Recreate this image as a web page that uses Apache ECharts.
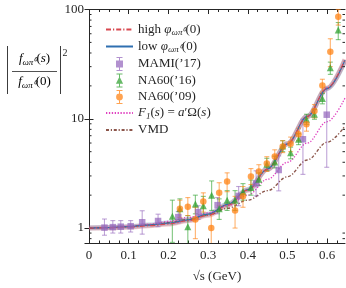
<!DOCTYPE html>
<html><head><meta charset="utf-8">
<script src="https://cdn.jsdelivr.net/npm/echarts@6/dist/echarts.min.js"></script>
<style>html,body{margin:0;padding:0;background:#fff}#c{width:346px;height:288px}</style>
</head><body><div id="c"></div>
<script>
// ---- data ----
const xTicks = [0, 0.1, 0.2, 0.3, 0.4, 0.5, 0.6];
const xMinorTicks = [0.025,0.05,0.075,0.125,0.15,0.175,0.225,0.25,0.275,0.325,0.35,0.375,0.425,0.45,0.475,0.525,0.55,0.575,0.625];
const yTickLabels = [1, 10, 100];
const yMinorTicks = [0.8,0.9,2,3,4,5,6,7,8,9,20,30,40,50,60,70,80,90];

const curveX = [0,0.05,0.1,0.15,0.2,0.25,0.3,0.35,0.4,0.45,0.5,0.55,0.6,0.645];
const lowY   = [1,1.01,1.03,1.064,1.11,1.19,1.34,1.65,2.25,3.48,5.9,10.5,18.9,34.4];
const highY  = [1,1.005,1.02,1.05,1.09,1.17,1.31,1.62,2.22,3.45,5.9,10.5,19.1,35];
const f1Y    = [1,1.01,1.04,1.08,1.15,1.25,1.38,1.6,2.0,2.8,4.0,6.0,9.4,15.5];
const vmdY   = [1,1.01,1.03,1.07,1.12,1.2,1.32,1.52,1.8,2.2,2.95,4.2,6.1,8.6];

const mamiX  = [0.039,0.06,0.08,0.105,0.134,0.174,0.225,0.275,0.324,0.377,0.421,0.478,0.539,0.599];
const mamiY  = [1.01,1.02,1.03,1.04,1.13,1.16,1.26,1.40,1.62,1.97,2.56,3.4,6.5,10.9];
const mamiLo = [0.86,0.9,0.9,0.92,0.88,1.03,1.12,1.2,1.35,1.6,1.97,2.19,3.1,3.6];
const mamiHi = [1.21,1.17,1.17,1.17,1.44,1.34,1.42,1.6,1.9,2.4,3.34,4.58,9.9,19.3];

const na16X  = [0.21,0.229,0.249,0.268,0.288,0.309,0.328,0.348,0.368,0.388,0.408,0.428,0.448,0.468,0.488,0.508,0.528,0.548,0.568,0.588,0.608,0.628];
const na16Y  = [1.28,1.5,1.03,1.66,1.6,2.0,1.5,1.8,1.8,2.15,2.35,2.8,3.84,4.03,5.65,4.9,6.5,9.9,11,15.3,29.3,65];
const na16Lo = [0.74,1.2,0.7,1.35,1.3,1.45,1.2,1.45,1.45,1.8,2.0,2.45,3.35,3.55,5.0,4.3,5.8,8.9,9.9,13.7,25.5,53];
const na16Hi = [1.8,1.85,1.3,2.0,1.95,2.7,1.85,2.2,2.2,2.55,2.75,3.2,4.35,4.55,6.3,5.5,7.3,11,12.2,17,33,76];

const na09X  = [0.229,0.249,0.268,0.288,0.308,0.328,0.348,0.368,0.388,0.408,0.428,0.448,0.468,0.488,0.508,0.528,0.548,0.568,0.588,0.608,0.628];
const na09Y  = [1.5,1.57,1.2,1.75,1.0,2.1,2.67,1.45,1.95,2.97,3.3,3.9,4.52,5.58,5.9,7.21,8.9,11.8,20.2,41,86];
const na09Lo = [1.25,1.3,0.8,1.4,0.6,1.6,2.15,1.0,1.55,2.5,2.8,3.3,3.9,4.9,5.0,6.3,7.7,10.2,17.5,30,72];
const na09Hi = [1.8,1.9,1.55,2.1,1.35,2.6,3.2,1.95,2.4,3.5,3.8,4.5,5.2,6.3,6.8,8.2,10.2,13.5,23,54,100];

// ---- helpers ----
const FONT = 'Liberation Serif';
const INK = '#262626';
const C_HIGH = '#d8474f', C_LOW = '#2f6fb0', C_MAMI = '#9467bd', C_N16 = '#2ca02c', C_N09 = '#ff7f0e', C_F1 = '#e040c0', C_VMD = '#8c564b';
const pairs = (xs, ys) => xs.map((x, i) => [x, ys[i]]);
function rgba(hex, a) {
  const n = parseInt(hex.slice(1), 16);
  return `rgba(${(n>>16)&255},${(n>>8)&255},${n&255},${a})`;
}
function errSeries(name, xs, lo, hi, color) {
  return {
    type: 'custom', name, silent: true, z: 3,
    data: xs.map((x, i) => [x, lo[i], hi[i]]),
    renderItem(params, api) {
      const cs = params.coordSys;
      const x = api.value(0);
      const a = api.coord([x, api.value(1)]);
      const b = api.coord([x, api.value(2)]);
      const top = cs.y, bot = cs.y + cs.height;
      const y1 = Math.min(Math.max(a[1], top), bot), y2 = Math.min(Math.max(b[1], top), bot);
      const st = { stroke: rgba(color, 0.6), lineWidth: 1.1 };
      const ch = [{ type: 'line', shape: { x1: a[0], y1: y1, x2: a[0], y2: y2 }, style: st }];
      if (a[1] <= bot) ch.push({ type: 'line', shape: { x1: a[0]-2.5, y1: a[1], x2: a[0]+2.5, y2: a[1] }, style: st });
      if (b[1] >= top) ch.push({ type: 'line', shape: { x1: b[0]-2.5, y1: b[1], x2: b[0]+2.5, y2: b[1] }, style: st });
      return { type: 'group', children: ch };
    }
  };
}
const ICON_SQ  = 'path://M2,0H8V1H2Z M4.5,0H5.5V14H4.5Z M2,13H8V14H2Z M1.5,3.5H8.5V10.5H1.5Z';
const ICON_TRI = 'path://M2,0H8V1H2Z M4.5,0H5.5V14H4.5Z M2,13H8V14H2Z M5,3L8.6,10.2H1.4Z';
const ICON_CIR = 'path://M2,0H8V1H2Z M4.5,0H5.5V14H4.5Z M2,13H8V14H2Z M5,3.6A3.4,3.4 0 1 1 4.99,3.6Z';

const rich = {
  t: { fontFamily: FONT, fontSize: 13, lineHeight: 16, color: INK, verticalAlign: 'middle' },
  i: { fontFamily: FONT, fontSize: 13, lineHeight: 16, fontStyle: 'italic', color: INK, verticalAlign: 'middle' },
  s: { fontFamily: FONT, fontSize: 9, lineHeight: 16, fontStyle: 'italic', color: INK, verticalAlign: 'bottom' }
};
const legendText = {
  'high': '{t|high }{i|φ}{s|ωπ⁰}{t|(0)}',
  'low': '{t|low }{i|φ}{s|ωπ⁰}{t|(0)}',
  "MAMI('17)": "{t|MAMI(’17)}",
  "NA60('16)": "{t|NA60(’16)}",
  "NA60('09)": "{t|NA60(’09)}",
  'F1': '{i|F}{s|1}{t|(}{i|s}{t|) = }{i|a}{t|′Ω(}{i|s}{t|)}',
  'VMD': '{t|VMD}'
};

const chart = echarts.init(document.getElementById('c'), null, { renderer: 'canvas' });
const lineBase = { type: 'line', symbol: 'none', smooth: 0.35, smoothMonotone: 'x', silent: true };
const hideSym = { itemStyle: { opacity: 0 } };

const axisLineStyle = { color: INK, width: 1 };
const option = {
  animation: false,
  grid: { left: 89, right: 1, top: 9.5, bottom: 44, containLabel: false },
  xAxis: [
    { type: 'value', min: 0, max: 0.645, position: 'bottom',
      axisLine: { show: true, lineStyle: axisLineStyle },
      axisTick: { show: true, inside: true, length: 4.5, customValues: xTicks, lineStyle: axisLineStyle },
      axisLabel: { customValues: xTicks, formatter: v => v === 0 ? '0' : v.toFixed(1), fontFamily: FONT, fontSize: 13, color: INK, margin: 6 },
      splitLine: { show: false },
      name: '√s (GeV)', nameLocation: 'middle', nameGap: 27,
      nameTextStyle: { fontFamily: FONT, fontSize: 13, color: INK } },
    { type: 'value', min: 0, max: 0.645, position: 'bottom',
      axisLine: { show: false }, axisLabel: { show: false }, splitLine: { show: false },
      axisTick: { show: true, inside: true, length: 2.5, customValues: xMinorTicks, lineStyle: axisLineStyle } },
    { type: 'value', min: 0, max: 0.645, position: 'top',
      axisLine: { show: true, lineStyle: axisLineStyle }, axisLabel: { show: false }, splitLine: { show: false },
      axisTick: { show: true, inside: true, length: 4.5, customValues: xTicks, lineStyle: axisLineStyle } },
    { type: 'value', min: 0, max: 0.645, position: 'top',
      axisLine: { show: false }, axisLabel: { show: false }, splitLine: { show: false },
      axisTick: { show: true, inside: true, length: 2.5, customValues: xMinorTicks, lineStyle: axisLineStyle } }
  ],
  yAxis: [
    { type: 'log', logBase: 10, min: 0.73, max: 100, position: 'left',
      axisLine: { show: true, lineStyle: axisLineStyle },
      axisTick: { show: true, inside: true, length: 4.5, lineStyle: axisLineStyle },
      axisLabel: { fontFamily: FONT, fontSize: 13, color: INK, margin: 5,
        formatter: v => { const m = yTickLabels.find(t => Math.abs(v - t) / t < 1e-6); return m ? String(m) : ''; } },
      splitLine: { show: false } },
    { type: 'log', logBase: 10, min: 0.73, max: 100, position: 'right',
      axisLine: { show: true, lineStyle: axisLineStyle },
      axisTick: { show: true, inside: true, length: 4.5, lineStyle: axisLineStyle },
      axisLabel: { show: false }, splitLine: { show: false } }
  ],
  legend: {
    orient: 'vertical', left: 100, top: 18, itemWidth: 27, itemHeight: 14, itemGap: 2.5,
    symbolKeepAspect: true,
    data: [
      Object.assign({ name: 'high' }, hideSym), Object.assign({ name: 'low' }, hideSym),
      { name: "MAMI('17)", icon: ICON_SQ }, { name: "NA60('16)", icon: ICON_TRI }, { name: "NA60('09)", icon: ICON_CIR },
      Object.assign({ name: 'F1' }, hideSym), Object.assign({ name: 'VMD' }, hideSym)
    ],
    formatter: n => legendText[n] || n,
    textStyle: { fontFamily: FONT, fontSize: 13, color: INK, rich }
  },
  graphic: [
    { type: 'line', shape: { x1: 7.5, y1: 46, x2: 7.5, y2: 94 }, style: { stroke: INK, lineWidth: 0.9 } },
    { type: 'line', shape: { x1: 60.5, y1: 46, x2: 60.5, y2: 94 }, style: { stroke: INK, lineWidth: 0.9 } },
    { type: 'line', shape: { x1: 12, y1: 71.5, x2: 57, y2: 71.5 }, style: { stroke: INK, lineWidth: 0.8 } },
    { type: 'text', x: 34.5, y: 59, style: { text: '{i|f}{s|ωπ⁰}{t|(}{i|s}{t|)}', rich, align: 'center', verticalAlign: 'middle' } },
    { type: 'text', x: 34.5, y: 82, style: { text: '{i|f}{s|ωπ⁰}{t|(0)}', rich, align: 'center', verticalAlign: 'middle' } },
    { type: 'text', x: 62.5, y: 53, style: { text: '2', fontFamily: FONT, fontSize: 10, fill: INK, verticalAlign: 'middle' } }
  ],
  series: [
    Object.assign({}, lineBase, { name: 'lowBand', data: pairs(curveX, lowY), lineStyle: { color: rgba(C_LOW, 0.3), width: 5 }, z: 2 }),
    Object.assign({}, lineBase, { name: 'highBand', data: pairs(curveX, highY), lineStyle: { color: rgba(C_HIGH, 0.3), width: 5 }, z: 2 }),
    Object.assign({}, lineBase, { name: 'F1', data: pairs(curveX, f1Y), lineStyle: { color: C_F1, width: 1.3, type: [1.3, 1.6] }, itemStyle: { color: C_F1 }, z: 2 }),
    Object.assign({}, lineBase, { name: 'VMD', data: pairs(curveX, vmdY), lineStyle: { color: C_VMD, width: 1.4, type: [3, 1.8, 1.2, 1.8] }, itemStyle: { color: C_VMD }, z: 2 }),
    Object.assign({}, lineBase, { name: 'low', data: pairs(curveX, lowY), lineStyle: { color: C_LOW, width: 1.2 }, itemStyle: { color: C_LOW }, z: 4 }),
    Object.assign({}, lineBase, { name: 'high', data: pairs(curveX, highY), lineStyle: { color: C_HIGH, width: 1.2, type: [5, 2, 1.2, 2] }, itemStyle: { color: C_HIGH }, z: 4 }),
    errSeries('mamiErr', mamiX, mamiLo, mamiHi, C_MAMI),
    errSeries('na16Err', na16X, na16Lo, na16Hi, C_N16),
    errSeries('na09Err', na09X, na09Lo, na09Hi, C_N09),
    { type: 'scatter', name: "MAMI('17)", data: pairs(mamiX, mamiY), symbol: 'rect', symbolSize: 6.5, itemStyle: { color: rgba(C_MAMI, 0.9) }, z: 5, silent: true },
    { type: 'scatter', name: "NA60('16)", data: pairs(na16X, na16Y), symbol: 'triangle', symbolSize: 7, itemStyle: { color: rgba(C_N16, 0.9) }, z: 5, silent: true },
    { type: 'scatter', name: "NA60('09)", data: pairs(na09X, na09Y), symbol: 'circle', symbolSize: 6.5, itemStyle: { color: rgba(C_N09, 0.9) }, z: 5, silent: true },
    { type: 'custom', name: 'yMinor', silent: true, z: 6,
      data: yMinorTicks.map(v => [0, v]),
      renderItem(params, api) {
        const cs = params.coordSys;
        const p = api.coord([0, api.value(1)]);
        const st = { stroke: INK, lineWidth: 1 };
        return { type: 'group', children: [
          { type: 'line', shape: { x1: cs.x, y1: p[1], x2: cs.x + 2.5, y2: p[1] }, style: st },
          { type: 'line', shape: { x1: cs.x + cs.width, y1: p[1], x2: cs.x + cs.width - 2.5, y2: p[1] }, style: st }
        ] };
      } }
  ]
};
chart.setOption(option);
</script>
</body></html>
